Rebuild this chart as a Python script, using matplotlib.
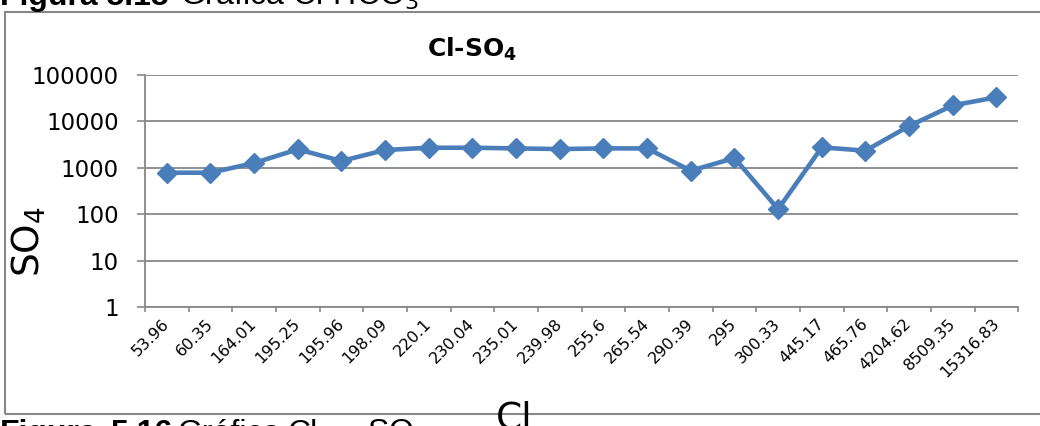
import numpy as np
import matplotlib
matplotlib.use("Agg")
import matplotlib.pyplot as plt
from matplotlib.patches import Rectangle
from matplotlib.ticker import FuncFormatter, NullLocator

# ── Data ──────────────────────────────────────────────────────────────────────
cl_labels = ["53.96", "60.35", "164.01", "195.25", "195.96", "198.09", "220.1",
             "230.04", "235.01", "239.98", "255.6", "265.54", "290.39", "295",
             "300.33", "445.17", "465.76", "4204.62", "8509.35", "15316.83"]
so4 = [789, 789, 1276, 2510, 1410, 2430, 2720, 2720, 2630, 2550,
       2630, 2630, 870, 1633, 130, 2775, 2345, 7980, 22200, 33100]
y_ticks = [1, 10, 100, 1000, 10000, 100000]

W, H = 1040, 426
GRAY = "#888888"
BLUE = "#4A7EBB"

plt.rcParams["font.family"] = ["DejaVu Sans"]

fig = plt.figure(figsize=(W / 100, H / 100), dpi=100)
left, right, top, bottom = 145, 1018.3, 75, 307.3
ax = fig.add_axes([left / W, 1 - bottom / H, (right - left) / W, (bottom - top) / H])

x = np.arange(len(so4))
ax.plot(x, so4, color=BLUE, lw=3.3, marker="D", ms=10, zorder=3, clip_on=False)

# y axis: log scale, decade gridlines
ax.set_yscale("log")
ax.set_ylim(1, 100000)
ax.set_yticks(y_ticks)
ax.yaxis.set_major_formatter(FuncFormatter(lambda v, p: f"{int(round(v))}"))
ax.yaxis.set_minor_locator(NullLocator())
ax.grid(axis="y", color=GRAY, lw=1.3)
ax.tick_params(axis="y", length=5.8, width=1.2, color=GRAY, labelsize=16.5, pad=13)

# x axis: ticks between categories, labels at category centres
ax.set_xlim(-0.5, len(so4) - 0.5)
ax.set_xticks(np.arange(-0.5, len(so4), 1))
ax.set_xticklabels([])
ax.set_xticks(x, labels=cl_labels, minor=True)
ax.tick_params(axis="x", which="major", length=3.6, width=1.2, color=GRAY)
ax.tick_params(axis="x", which="minor", length=0, labelsize=11.5, pad=10,
               labelrotation=45)
plt.setp(ax.get_xticklabels(minor=True), ha="right", va="center",
         rotation_mode="anchor")

for side in ("top", "right"):
    ax.spines[side].set_visible(False)
for side in ("left", "bottom"):
    ax.spines[side].set_color(GRAY)
    ax.spines[side].set_linewidth(1.3)
ax.set_axisbelow(True)

# chart frame (right side runs off the picture)
fig.patches.append(Rectangle((5 / W, 1 - 414 / H), 1.1, (414 - 12) / H,
                             transform=fig.transFigure, fill=False,
                             ec=GRAY, lw=1.5))

# titles and axis labels
fig.text(472 / W, 1 - 57 / H, r"Cl-SO$_\mathbf{4}$", ha="center", va="baseline",
         fontsize=18, fontweight="bold")
fig.text(29 / W, 1 - 242 / H, r"SO$_4$", rotation=90, ha="center", va="center",
         fontsize=27)
fig.text(514 / W, 1 - 428 / H, "Cl", ha="center", va="baseline", fontsize=27)

# document captions cut by the picture edges
cap = dict(family="Liberation Sans", fontsize=23, va="baseline")
fig.text(0, 1 - 5 / H, "Figura 5.15", fontweight="bold", **cap)
fig.text(180 / W, 1 - 5 / H, r"Gráfica Cl-HCO$_3$", **cap)

yb = 1 - 442 / H
fig.text(0, yb, "Figura", fontweight="bold", **cap)
fig.text(110 / W, yb, "5.16", fontweight="bold", **cap)
fig.text(177 / W, yb, "Gráfica", **cap)
fig.text(287 / W, yb, "Cl", **cap)
fig.text(337 / W, yb, "-", **cap)
fig.text(367 / W, yb, r"SO$_4$", **cap)

fig.savefig("out.png", dpi=100)
